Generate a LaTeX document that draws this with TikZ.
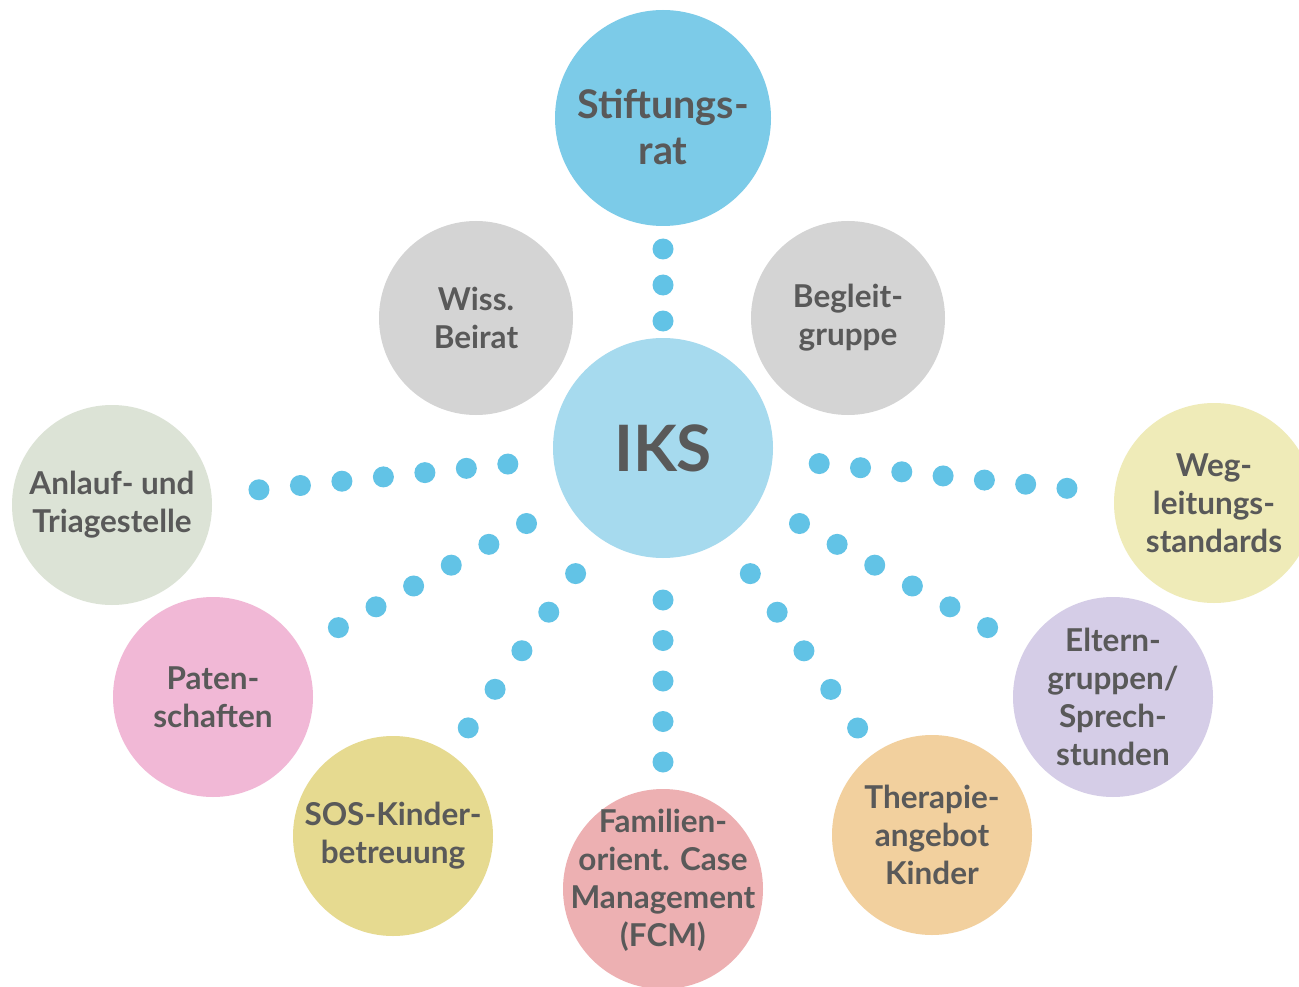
\documentclass[tikz,border=0pt]{standalone}
\usepackage{fontspec}
\setmainfont{Lato}
\usetikzlibrary{calc}
\definecolor{txt}{HTML}{595959}
\definecolor{cStift}{HTML}{7CCBE8}
\definecolor{cIKS}{HTML}{A6DAEE}
\definecolor{cGray}{HTML}{D4D4D4}
\definecolor{cAnl}{HTML}{DCE3D6}
\definecolor{cWeg}{HTML}{EFEBB8}
\definecolor{cPat}{HTML}{F1B8D6}
\definecolor{cElt}{HTML}{D5CDE7}
\definecolor{cSOS}{HTML}{E6DA90}
\definecolor{cFCM}{HTML}{EDB0B2}
\definecolor{cThe}{HTML}{F2D09E}
\definecolor{cDot}{HTML}{62C3E6}
\newcommand\dotrow[5]{%
  \foreach \i in {1,...,#4}{%
    \pgfmathsetmacro\dd{#3+(\i-1)*#5}%
    \fill[cDot] ($(#1)!\dd pt!(#2)$) circle (10.5pt);
  }}
\begin{document}
\begin{tikzpicture}[x=1pt,y=-1pt,
  bub/.style={circle,draw=none,inner sep=0pt,minimum size=#1*2pt,text=txt,align=center,
    font=\bfseries\fontsize{31.5}{38}\selectfont},
  lbl/.style={text=txt,align=center,inner sep=0pt,font=\bfseries\fontsize{31.5}{38}\selectfont}]
\useasboundingbox (0,0) rectangle (1299,987);
\fill[white] (0,0) rectangle (1299,987);
% circles
\node[bub=108,fill=cStift] (stift) at (663,118) {};
\node[lbl,font=\bfseries\fontsize{39.5}{46}\selectfont] (stiftT) at (663,127) {Stiftungs-\\rat};
\node[bub=110,fill=cIKS,font=\bfseries\fontsize{64}{64}\selectfont] (iks) at (663,448) {IKS};
\node[bub=97,fill=cGray] (wiss) at (476,318) {Wiss.\\Beirat};
\node[bub=97,fill=cGray] (begl) at (848,318) {Begleit-\\gruppe};
\node[bub=100,fill=cAnl] (anl) at (112,505) {Anlauf- und\\Triagestelle};
\node[bub=100,fill=cWeg] (weg) at (1214,503) {Weg-\\leitungs-\\standards};
\node[bub=100,fill=cPat] (pat) at (213,697) {Paten-\\schaften};
\node[bub=100,fill=cElt] (elt) at (1113,697) {Eltern-\\gruppen/\\Sprech-\\stunden};
\node[bub=100,fill=cSOS] (sos) at (393,836) {SOS-Kinder-\\betreuung};
\node[bub=100,fill=cThe] (the) at (932,835) {Therapie-\\angebot\\Kinder};
\node[bub=100,fill=cFCM] (fcm) at (663,889) {};
\node[lbl] (fcmT) at (663,880) {Familien-\\orient. Case\\Management\\(FCM)};
% dotted connectors
\dotrow{iks}{stift}{127}{3}{36}
\dotrow{iks}{anl}{156}{7}{41.7}
\dotrow{iks}{weg}{157}{7}{41.5}
\dotrow{iks}{pat}{156}{6}{43}
\dotrow{iks}{elt}{156}{6}{43}
\dotrow{iks}{sos}{153}{5}{47}
\dotrow{iks}{the}{153}{5}{47}
\dotrow{iks}{fcm}{152}{5}{40.5}
\end{tikzpicture}
\end{document}
